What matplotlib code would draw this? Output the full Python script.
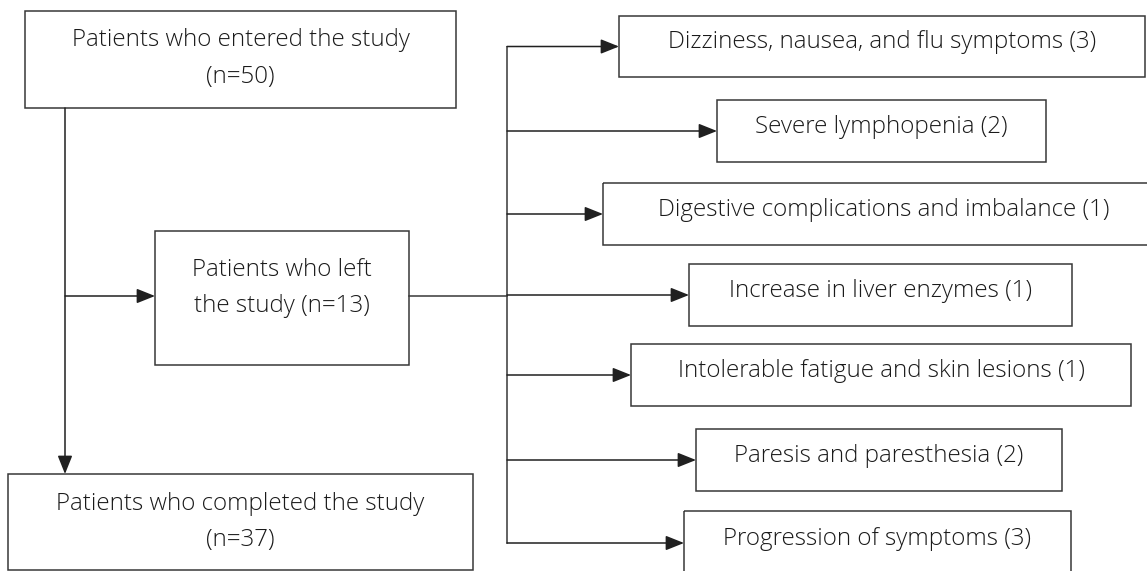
import matplotlib
matplotlib.use("Agg")
import matplotlib.pyplot as plt
from matplotlib.patches import Rectangle

# flow numbers
n_entered = 50
n_left = 13
n_completed = 37

reasons = ["Dizziness, nausea, and flu symptoms",
           "Severe lymphopenia",
           "Digestive complications and imbalance",
           "Increase in liver enzymes",
           "Intolerable fatigue and skin lesions",
           "Paresis and paresthesia",
           "Progression of symptoms"]
reason_counts = [3, 2, 1, 1, 1, 2, 3]

# layout in pixels (x0, x1, y0, y1), y grows downward
box_entered = (25, 456, 11, 108)
box_left = (155, 409, 231, 365)
box_done = (8, 473, 474, 570)
reason_boxes = [(619, 1145, 16, 77),
                (717, 1046, 100, 162),
                (603, 1165, 183, 245),
                (689, 1072, 264, 326),
                (631, 1131, 344, 406),
                (696, 1062, 429, 491),
                (684, 1071, 511, 575)]
trunk_x = 507
left_x = 65

LC = "#383838"
LW = 1.1
FS = 17.4

plt.rcParams['font.family'] = ['Open Sans', 'DejaVu Sans']

fig = plt.figure(figsize=(11.47, 5.71), dpi=100)
ax = fig.add_axes([0, 0, 1, 1])
ax.set_xlim(0, 1147)
ax.set_ylim(571, 0)
ax.axis("off")


def box(b, text, dy=-4, ls=1.7):
    x0, x1, y0, y1 = b
    ax.add_patch(Rectangle((x0, y0), x1 - x0, y1 - y0, fill=False,
                           edgecolor=LC, lw=LW))
    ax.text((x0 + x1) / 2, (y0 + y1) / 2 + dy, text, ha="center",
            va="center", fontsize=FS, fontweight="light", color="#1a1a1a",
            linespacing=ls)


def arrow(x0, y0, x1, y1):
    ax.annotate("", xy=(x1, y1), xytext=(x0, y0),
                arrowprops=dict(arrowstyle="-|>,head_length=0.8,head_width=0.32",
                                mutation_scale=14, color="#202020", lw=LW,
                                shrinkA=0, shrinkB=0))


box(box_entered, f"Patients who entered the study\n(n={n_entered})", dy=-1, ls=1.74)
box(box_left, f"Patients who left\nthe study (n={n_left})", dy=-10, ls=1.65)
box(box_done, f"Patients who completed the study\n(n={n_completed})", dy=0, ls=1.65)

for b, r, c in zip(reason_boxes, reasons, reason_counts):
    box(b, f"{r} ({c})")

# left column: entered -> completed, branch to left-study box
arrow(left_x, box_entered[3], left_x, box_done[2])
ymid_left = 296
arrow(left_x, ymid_left, box_left[0], ymid_left)

# trunk to the reasons
ax.plot([box_left[1], trunk_x], [ymid_left, ymid_left], color=LC, lw=LW)
ys = [(b[2] + b[3]) / 2 for b in reason_boxes]
ys[-1] = 543
ax.plot([trunk_x, trunk_x], [ys[0], ys[-1]], color=LC, lw=LW)
for b, y in zip(reason_boxes, ys):
    arrow(trunk_x, y, b[0], y)

fig.savefig("out.png", dpi=100)
